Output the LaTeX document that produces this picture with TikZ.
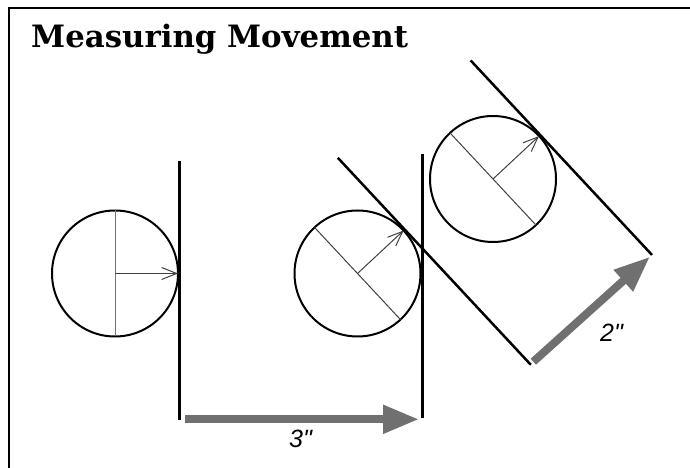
\documentclass[tikz,border=0pt]{standalone}
\usepackage{fontspec}
\usetikzlibrary{arrows.meta,calc}
\newfontfamily\titlefont{DejaVu Serif}
\newfontfamily\labelfont{Liberation Sans}
\definecolor{movegray}{RGB}{112,112,112}

\begin{document}
\begin{tikzpicture}[x=1pt,y=1pt,
  wall/.style={line width=3pt},
  slope/.style={line width=2.5pt},
  rim/.style={line width=2pt},
  diam/.style={line width=1pt, black!75},
  radius/.style={line width=1pt, black!75, -{Straight Barb[length=15pt,width=12pt]}},
  move/.style={line width=8pt, movegray, -{Triangle[length=36pt,width=27pt]}},
  meas/.style={inner sep=0pt, font=\labelfont\itshape\fontsize{25}{25}\selectfont}]
  \useasboundingbox (0,0) rectangle (690,468);

  % frame and title
  \draw[line width=2.5pt] (9,-5) -- (9,460) -- (695,460);
  \node[anchor=base west, inner sep=0pt, font=\titlefont\bfseries\fontsize{30.8}{31}\selectfont] (title) at (31,420) {Measuring Movement};

  % ball against the first wall
  \coordinate (c1) at (115,194.5);
  \coordinate (t1) at ($(c1)+(63,0)$);
  \draw[rim] (c1) circle (63pt);
  \draw[diam, black!55] ($(c1)+(0,63)$) -- ($(c1)+(0,-63)$);
  \draw[radius] (c1) -- (t1);
  \draw[wall] (179.5,307) coordinate (w1top) -- (179.5,48) coordinate (w1bot);

  % moved 3 inches
  \coordinate (c2) at (357.5,194.5);
  \coordinate (t2) at ($(c2)+(43:63)$);
  \coordinate (s2) at ($(c2)+(43:64.5)$);
  \draw[rim] (c2) circle (63pt);
  \draw[diam] ($(c2)+(133:63)$) -- ($(c2)+(-47:63)$);
  \draw[radius] (c2) -- (t2);
  \draw[wall] (422.5,314) coordinate (w2top) -- (422.5,50) coordinate (w2bot);
  \draw[slope] ($(s2)+(133:98)$) -- ($(s2)+(-47:185)$) coordinate (d1end);

  % moved 2 inches
  \coordinate (c3) at (493,289);
  \coordinate (t3) at ($(c3)+(43:63)$);
  \coordinate (s3) at ($(c3)+(43:64.5)$);
  \draw[rim] (c3) circle (63pt);
  \draw[diam] ($(c3)+(133:63)$) -- ($(c3)+(-47:63)$);
  \draw[radius] (c3) -- (t3);
  \draw[slope] ($(s3)+(133:102)$) -- ($(s3)+(-47:164)$) coordinate (d2end);

  % measures
  \coordinate (m1a) at (185,48.7);
  \coordinate (m1b) at (419,48.7);
  \draw[move] (m1a) -- (m1b);
  \node[meas] (three) at (300.5,29.5) {3"};
  \coordinate (m2a) at (533.3,106.3);
  \coordinate (m2b) at (650,211.3);
  \draw[move] (m2a) -- (m2b);
  \node[meas] (two) at (611.5,135) {2"};
\end{tikzpicture}
\end{document}
